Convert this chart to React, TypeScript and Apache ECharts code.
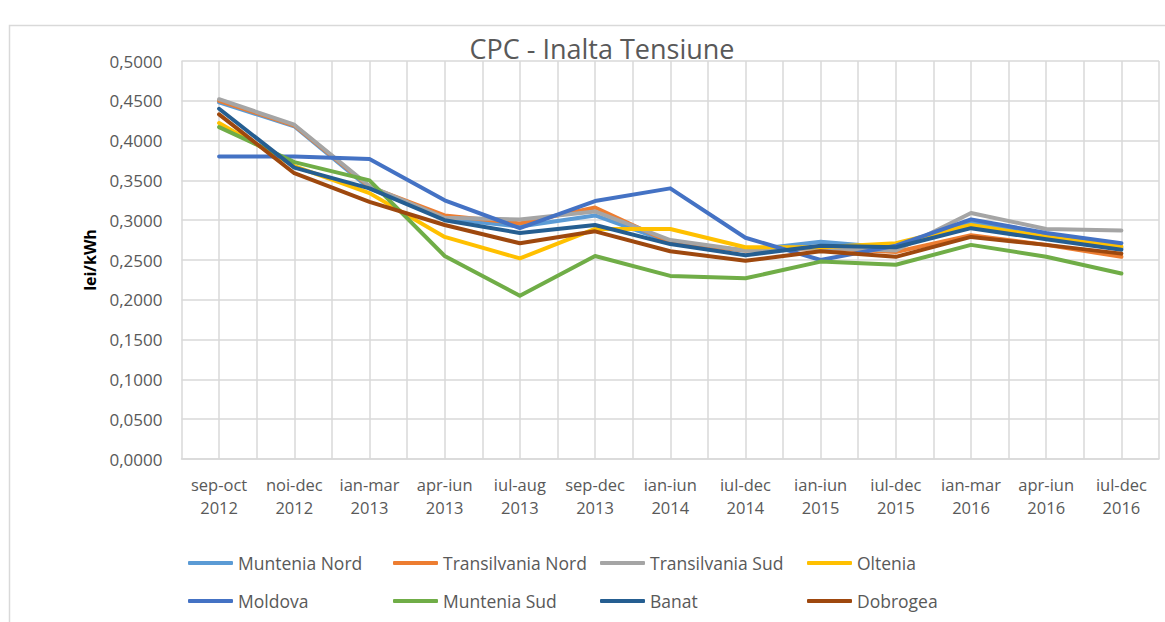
import React, { useEffect, useRef } from "react";
import * as echarts from "echarts";

const periods = ["sep-oct", "noi-dec", "ian-mar", "apr-iun", "iul-aug", "sep-dec", "ian-iun", "iul-dec", "ian-iun", "iul-dec", "ian-mar", "apr-iun", "iul-dec"];
const years = ["2012", "2012", "2013", "2013", "2013", "2013", "2014", "2014", "2015", "2015", "2016", "2016", "2016"];

const seriesNames = ["Muntenia Nord", "Transilvania Nord", "Transilvania Sud", "Oltenia", "Moldova", "Muntenia Sud", "Banat", "Dobrogea"];
const seriesColors = ["#5B9BD5", "#ED7D31", "#A5A5A5", "#FFC000", "#4472C4", "#70AD47", "#255E91", "#9E480E"];

const munteniaNord = [0.448, 0.418, 0.340, 0.302, 0.292, 0.306, 0.272, 0.262, 0.273, 0.265, 0.298, 0.281, 0.265];
const transilvaniaNord = [0.450, 0.419, 0.342, 0.306, 0.296, 0.316, 0.272, 0.262, 0.265, 0.260, 0.281, 0.269, 0.254];
const transilvaniaSud = [0.452, 0.420, 0.343, 0.303, 0.301, 0.311, 0.275, 0.262, 0.265, 0.262, 0.309, 0.289, 0.287];
const oltenia = [0.422, 0.368, 0.334, 0.279, 0.252, 0.289, 0.289, 0.266, 0.266, 0.271, 0.294, 0.279, 0.267];
const moldova = [0.380, 0.380, 0.377, 0.325, 0.290, 0.324, 0.340, 0.278, 0.250, 0.268, 0.301, 0.284, 0.271];
const munteniaSud = [0.417, 0.373, 0.350, 0.255, 0.205, 0.255, 0.230, 0.227, 0.248, 0.244, 0.269, 0.254, 0.233];
const banat = [0.440, 0.366, 0.340, 0.300, 0.284, 0.294, 0.270, 0.256, 0.268, 0.266, 0.290, 0.276, 0.263];
const dobrogea = [0.433, 0.359, 0.323, 0.294, 0.271, 0.286, 0.261, 0.249, 0.261, 0.254, 0.279, 0.269, 0.258];

const seriesValues = [munteniaNord, transilvaniaNord, transilvaniaSud, oltenia, moldova, munteniaSud, banat, dobrogea];

const FONT = "'Open Sans', sans-serif";
const TEXT = "#595959";
const GRID = "#d9d9d9";

export default function App() {
  const ref = useRef<HTMLDivElement>(null);
  useEffect(() => {
    if (!ref.current) return;
    const chart = echarts.init(ref.current, undefined, { renderer: "svg" });
    const legendCols = [188, 393, 600, 807];
    const legendRows = [552, 590];
    const option: any = {
      animation: false,
      backgroundColor: "#ffffff",
      title: {
        text: "CPC - Inalta Tensiune",
        left: 597,
        textAlign: "center",
        top: 30,
        textStyle: { fontFamily: FONT, fontSize: 27, fontWeight: "normal", color: TEXT },
      },
      graphic: [
        {
          type: "polyline",
          shape: { points: [[9.5, 700], [9.5, 25.5], [1200, 25.5]] },
          style: { stroke: GRID, fill: null, lineWidth: 1.5 },
          silent: true,
        },
      ],
      legend: seriesNames.map((n, i) => ({
        data: [n],
        left: legendCols[i % 4],
        top: legendRows[Math.floor(i / 4)] + 2,
        icon: "roundRect",
        itemWidth: 45,
        itemHeight: 4,
        padding: 0,
        textStyle: { fontFamily: FONT, fontSize: 17.5, color: TEXT },
      })),
      grid: { left: 181.5, right: 6, top: 61, bottom: 163, containLabel: false },
      xAxis: {
        type: "value",
        min: -0.5,
        max: 12.5,
        interval: 0.5,
        axisLine: { show: true, lineStyle: { color: GRID, width: 1.5 } },
        axisTick: { show: false },
        splitLine: { show: true, lineStyle: { color: GRID, width: 1.5 } },
        axisLabel: {
          fontFamily: FONT,
          fontSize: 16.5,
          color: TEXT,
          lineHeight: 23,
          margin: 14,
          showMinLabel: true,
          showMaxLabel: true,
          formatter: (v: number) => {
            const i = Math.round(v);
            if (Math.abs(v - i) > 1e-6 || i < 0 || i >= periods.length) return "";
            return periods[i] + "\n" + years[i];
          },
        },
      },
      yAxis: {
        type: "value",
        min: 0,
        max: 0.5,
        interval: 0.05,
        name: "lei/kWh",
        nameLocation: "middle",
        nameGap: 84,
        nameTextStyle: { fontFamily: FONT, fontSize: 16, fontWeight: "bold", color: "#000000" },
        axisLine: { show: false },
        axisTick: { show: false },
        splitLine: { show: true, lineStyle: { color: GRID, width: 1.5 } },
        axisLabel: {
          fontFamily: FONT,
          fontSize: 17,
          color: TEXT,
          margin: 19,
          formatter: (v: number) => v.toFixed(4).replace(".", ","),
        },
      },
      series: seriesNames.map((n, i) => ({
        name: n,
        type: "line",
        data: seriesValues[i].map((v, j) => [j, v]),
        showSymbol: false,
        symbol: "none",
        color: seriesColors[i],
        lineStyle: { width: 4, color: seriesColors[i], cap: "round", join: "round" },
      })),
    };
    chart.setOption(option);
    return () => chart.dispose();
  }, []);
  return (
    <div style={{ position: "absolute", left: 0, top: 0, width: 1165, height: 622, background: "#fff" }}>
      <div ref={ref} style={{ width: 1165, height: 622 }} />
    </div>
  );
}
